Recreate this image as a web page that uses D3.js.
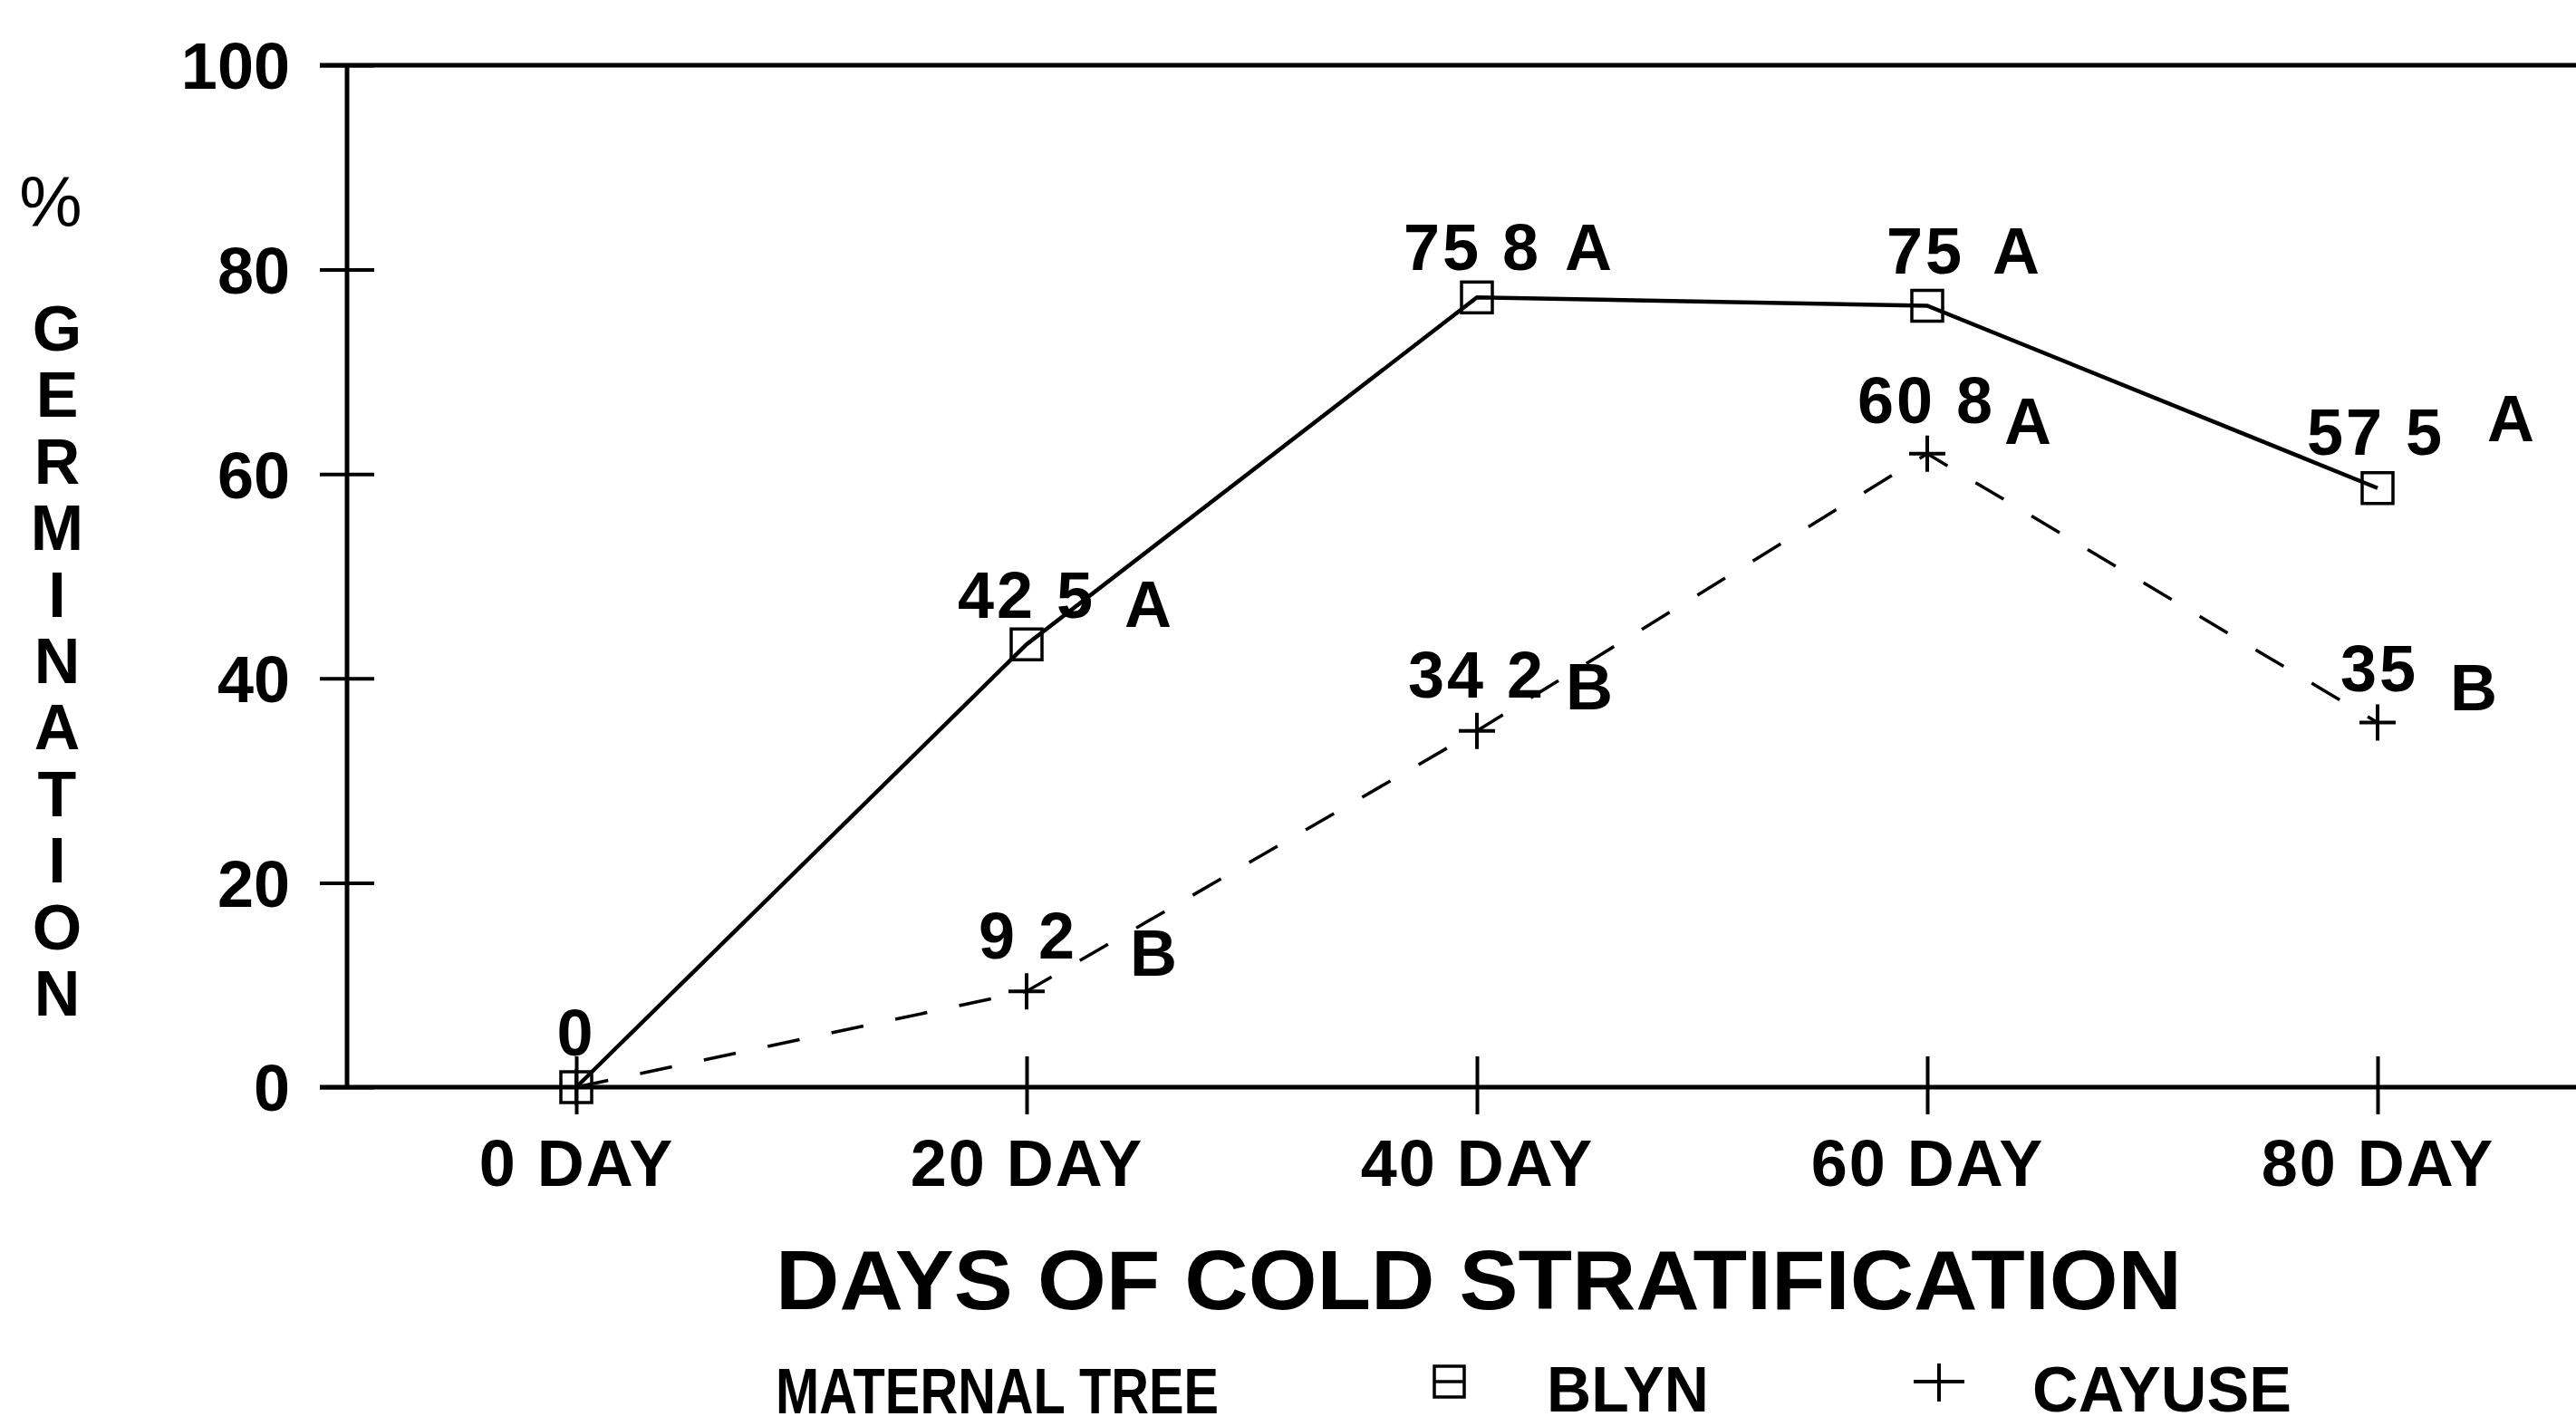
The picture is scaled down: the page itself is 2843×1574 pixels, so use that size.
<!DOCTYPE html>
<html>
<head>
<meta charset="utf-8">
<script src="https://cdn.jsdelivr.net/npm/d3@7"></script>
<style>
  body { margin: 0; background: #fff; }
  svg { display: block; font-family: "Liberation Sans", Arial, sans-serif; }
</style>
</head>
<body>
<svg id="chart" width="2843" height="1574"></svg>
<script>
// data
var days = [0, 20, 40, 60, 80];
var dayLabels = ["0 DAY", "20 DAY", "40 DAY", "60 DAY", "80 DAY"];
var yTicks = [0, 20, 40, 60, 80, 100];

var blyn = [0, 42.5, 75.8, 75, 57.5];
var blynText = ["0", "42 5", "75 8", "75", "57 5"];
var blynGroup = ["", "A", "A", "A", "A"];

var cayuse = [0, 9.2, 34.2, 60.8, 35];
var cayuseText = ["", "9 2", "34 2", "60 8", "35"];
var cayuseGroup = ["", "B", "B", "A", "B"];

// label offsets from each point: [numDx, numDy, letterDx, letterDy]
var blynOffsets = [[0, -35, 0, 0], [-76, -29, 108, -19], [-81, -30, 97, -30], [-45, -36, 72, -36], [-78, -37, 121, -52]];
var cayuseOffsets = [[0, 0, 0, 0], [-53, -36, 114, -17], [-76, -37, 98, -24], [-77, -34, 85, -11], [-41, -35, 80, -14]];

var W = 2843, H = 1574;
var axisX = 383, axisY = 1200;

var svg = d3.select("#chart");
svg.append("rect").attr("width", W).attr("height", H).attr("fill", "#fff");

var x = d3.scaleLinear().domain([0, 80]).range([636, 2624]);
// axis ticks and plotted points were drafted on slightly different spacing
var yAxisScale = d3.scaleLinear().domain([0, 100]).range([axisY, 72]);
var y = d3.scaleLinear().domain([0, 100]).range([axisY, 50]);

// frame lines
svg.append("line")
  .attr("x1", axisX).attr("x2", axisX)
  .attr("y1", yAxisScale(100)).attr("y2", axisY)
  .attr("stroke", "#000").attr("stroke-width", 5);
svg.append("line")
  .attr("x1", axisX - 30).attr("x2", W)
  .attr("y1", axisY).attr("y2", axisY)
  .attr("stroke", "#000").attr("stroke-width", 5);
svg.append("line")
  .attr("x1", axisX - 30).attr("x2", W)
  .attr("y1", yAxisScale(100)).attr("y2", yAxisScale(100))
  .attr("stroke", "#000").attr("stroke-width", 5);

// y axis
var gy = svg.append("g")
  .attr("transform", "translate(" + axisX + ",0)")
  .call(d3.axisLeft(yAxisScale).tickValues(yTicks).tickSize(30).tickPadding(33));
gy.select(".domain").remove();
gy.selectAll(".tick line").attr("x1", 30).attr("stroke-width", 4);
gy.selectAll(".tick text")
  .attr("font-family", "Liberation Sans, Arial, sans-serif")
  .attr("font-size", 72).attr("font-weight", "bold")
  .attr("dy", "0.36em");

// x axis
var gx = svg.append("g")
  .attr("transform", "translate(0," + axisY + ")")
  .call(d3.axisBottom(x).tickValues(days).tickSize(30).tickPadding(28)
    .tickFormat(function(d, i) { return dayLabels[i]; }));
gx.select(".domain").remove();
gx.selectAll(".tick line").attr("y1", -34).attr("stroke-width", 4);
gx.selectAll(".tick text")
  .attr("font-family", "Liberation Sans, Arial, sans-serif")
  .attr("font-size", 72).attr("font-weight", "bold")
  .attr("letter-spacing", 2)
  .attr("dy", "0.71em");

// series lines
var line = d3.line()
  .x(function(d, i) { return x(days[i]); })
  .y(function(d) { return y(d); });

svg.append("path")
  .datum(cayuse)
  .attr("d", line)
  .attr("fill", "none")
  .attr("stroke", "#000")
  .attr("stroke-width", 3.5)
  .attr("stroke-dasharray", "36 36");

svg.append("path")
  .datum(blyn)
  .attr("d", line)
  .attr("fill", "none")
  .attr("stroke", "#000")
  .attr("stroke-width", 4.5);

// markers
svg.selectAll(".sq")
  .data(blyn)
  .enter()
  .append("rect")
  .attr("class", "sq")
  .attr("x", function(d, i) { return x(days[i]) - 17; })
  .attr("y", function(d) { return y(d) - 17; })
  .attr("width", 34).attr("height", 34)
  .attr("fill", "none").attr("stroke", "#000").attr("stroke-width", 3.5);

svg.selectAll(".plus")
  .data(cayuse)
  .enter()
  .append("path")
  .attr("class", "plus")
  .attr("d", function(d, i) {
    var cx = x(days[i]), cy = y(d);
    return "M" + (cx - 20) + "," + cy + "H" + (cx + 20) + "M" + cx + "," + (cy - 20) + "V" + (cy + 20);
  })
  .attr("stroke", "#000").attr("stroke-width", 4);

// point labels
function addLabels(values, texts, groups, offsets) {
  values.forEach(function(v, i) {
    var px = x(days[i]), py = y(v), o = offsets[i];
    if (texts[i] !== "") {
      svg.append("text")
        .attr("x", px + o[0]).attr("y", py + o[1])
        .attr("text-anchor", groups[i] === "" ? "middle" : "start")
        .attr("font-size", 72).attr("font-weight", "bold")
        .attr("letter-spacing", 3)
        .text(texts[i]);
    }
    if (groups[i] !== "") {
      svg.append("text")
        .attr("x", px + o[2]).attr("y", py + o[3])
        .attr("font-size", 72).attr("font-weight", "bold")
        .text(groups[i]);
    }
  });
}
addLabels(blyn, blynText, blynGroup, blynOffsets);
addLabels(cayuse, cayuseText, cayuseGroup, cayuseOffsets);

// y axis title, stacked letters
svg.append("text")
  .attr("x", 56).attr("y", 250)
  .attr("text-anchor", "middle")
  .attr("font-size", 78)
  .text("%");

var yTitle = "GERMINATION".split("");
svg.selectAll(".ylab")
  .data(yTitle)
  .enter()
  .append("text")
  .attr("class", "ylab")
  .attr("x", 63)
  .attr("y", function(d, i) { return 387 + i * 73.4; })
  .attr("text-anchor", "middle")
  .attr("font-size", 70).attr("font-weight", "bold")
  .text(function(d) { return d; });

// x axis title
svg.append("text")
  .attr("x", 856).attr("y", 1445)
  .attr("font-size", 92).attr("font-weight", "bold")
  .attr("textLength", 1552).attr("lengthAdjust", "spacingAndGlyphs")
  .text("DAYS OF COLD STRATIFICATION");

// legend
svg.append("text")
  .attr("x", 856).attr("y", 1560)
  .attr("font-size", 70).attr("font-weight", "bold")
  .attr("textLength", 489).attr("lengthAdjust", "spacingAndGlyphs")
  .text("MATERNAL TREE");

svg.append("rect")
  .attr("x", 1583).attr("y", 1508).attr("width", 33).attr("height", 34)
  .attr("fill", "none").attr("stroke", "#000").attr("stroke-width", 3.5);
svg.append("line")
  .attr("x1", 1583).attr("x2", 1616).attr("y1", 1525).attr("y2", 1525)
  .attr("stroke", "#000").attr("stroke-width", 3.5);
svg.append("text")
  .attr("x", 1707).attr("y", 1558)
  .attr("font-size", 70).attr("font-weight", "bold")
  .attr("textLength", 179).attr("lengthAdjust", "spacingAndGlyphs")
  .text("BLYN");

svg.append("path")
  .attr("d", "M2112,1525H2168M2140,1505V1547")
  .attr("stroke", "#000").attr("stroke-width", 4);
svg.append("text")
  .attr("x", 2243).attr("y", 1558)
  .attr("font-size", 70).attr("font-weight", "bold")
  .attr("textLength", 286).attr("lengthAdjust", "spacingAndGlyphs")
  .text("CAYUSE");
</script>
</body>
</html>
